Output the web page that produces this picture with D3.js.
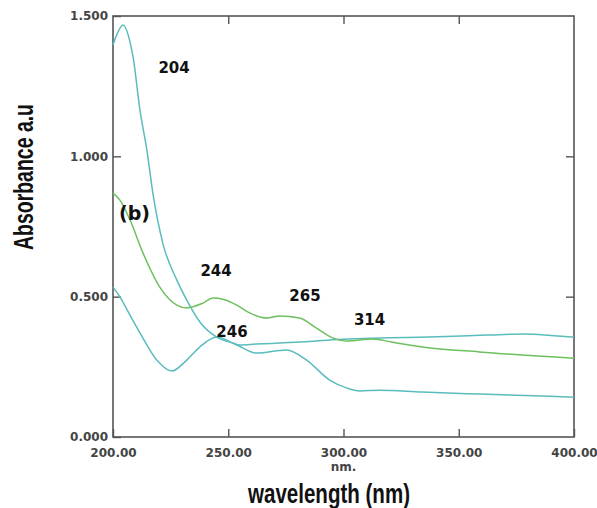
<!DOCTYPE html>
<html>
<head>
<meta charset="utf-8">
<script src="https://cdn.jsdelivr.net/npm/d3@7"></script>
<style>
  body { margin: 0; background: #fff; }
  svg { display: block; }
</style>
</head>
<body>
<div class="chart"></div>
<script>
// wavelength (nm) / absorbance
var wlA = [200, 201.5, 204.3, 207.4, 208.7, 211.7, 214.7, 217.3, 221.6, 227.7, 232, 237.7, 245, 252, 255, 262, 272.3, 285, 294, 305, 315.6, 337, 362, 379, 390, 400];
var absA = [1.397, 1.43, 1.468, 1.407, 1.354, 1.165, 1.022, 0.869, 0.691, 0.559, 0.488, 0.41, 0.356, 0.335, 0.328, 0.331, 0.335, 0.34, 0.346, 0.35, 0.353, 0.356, 0.363, 0.367, 0.362, 0.356];

var wlB = [200, 203, 207.4, 213, 220.3, 227.7, 232, 239, 243.3, 248, 253.7, 259.3, 266.7, 272.3, 281, 288.3, 295.2, 301.3, 312.6, 321.2, 334.2, 358.9, 400];
var absB = [0.869, 0.844, 0.773, 0.656, 0.534, 0.47, 0.46, 0.477, 0.495, 0.49, 0.47, 0.442, 0.424, 0.431, 0.424, 0.388, 0.353, 0.342, 0.349, 0.338, 0.321, 0.303, 0.281];

var wlC = [200, 203, 206, 211.7, 219, 225.5, 232, 237.7, 245, 253.7, 262.3, 275.3, 284, 294, 301.3, 307, 315.6, 334.2, 358.9, 400];
var absC = [0.534, 0.499, 0.455, 0.371, 0.274, 0.235, 0.274, 0.321, 0.356, 0.328, 0.299, 0.31, 0.274, 0.203, 0.175, 0.164, 0.167, 0.16, 0.153, 0.142];

var xTicks = [200, 250, 300, 350, 400];
var yTicks = [0, 0.5, 1.0, 1.5];

var peakLabels = [
  {text: "204", wl: 226.5, a: 1.297},
  {text: "244", wl: 244.7, a: 0.574},
  {text: "265", wl: 283.3, a: 0.485},
  {text: "246", wl: 251.6, a: 0.356},
  {text: "314", wl: 311.3, a: 0.399}
];

var width = 597, height = 508;
var margin = {top: 16, right: 23, bottom: 71, left: 113};

var svg = d3.select(".chart").append("svg")
    .attr("width", width)
    .attr("height", height);

var scaleX = d3.scaleLinear()
    .domain([200, 400])
    .range([margin.left, width - margin.right]);

var scaleY = d3.scaleLinear()
    .domain([0, 1.5])
    .range([height - margin.bottom, margin.top]);

var tickFont = "bold 12px 'DejaVu Sans', sans-serif";
var axisColor = "#555";

// frame
svg.append("rect")
    .attr("x", scaleX(200))
    .attr("y", scaleY(1.5))
    .attr("width", scaleX(400) - scaleX(200))
    .attr("height", scaleY(0) - scaleY(1.5))
    .attr("fill", "none")
    .attr("stroke", axisColor)
    .attr("stroke-width", 1.6);

function styleAxis(g) {
  g.select(".domain").remove();
  g.selectAll(".tick line").attr("stroke", axisColor).attr("stroke-width", 1.4);
  g.selectAll(".tick text").attr("fill", "#444").style("font", tickFont);
}

svg.append("g")
    .attr("transform", `translate(0, ${scaleY(0)})`)
    .call(d3.axisBottom(scaleX).tickValues(xTicks).tickFormat(d3.format(".2f"))
        .tickSizeInner(-8).tickSizeOuter(0).tickPadding(11))
    .call(styleAxis);

svg.append("g")
    .attr("transform", `translate(0, ${scaleY(1.5)})`)
    .call(d3.axisTop(scaleX).tickValues(xTicks.slice(1, -1)).tickFormat("")
        .tickSizeInner(-8).tickSizeOuter(0))
    .call(styleAxis);

svg.append("g")
    .attr("transform", `translate(${scaleX(200)}, 0)`)
    .call(d3.axisLeft(scaleY).tickValues(yTicks).tickFormat(d3.format(".3f"))
        .tickSizeInner(-8).tickSizeOuter(0).tickPadding(5))
    .call(styleAxis);

svg.append("g")
    .attr("transform", `translate(${scaleX(400)}, 0)`)
    .call(d3.axisRight(scaleY).tickValues(yTicks.slice(1, -1)).tickFormat("")
        .tickSizeInner(-8).tickSizeOuter(0))
    .call(styleAxis);

// curves
var line = d3.line()
    .x(d => scaleX(d[0]))
    .y(d => scaleY(d[1]))
    .curve(d3.curveMonotoneX);

var series = [
  {wl: wlA, abs: absA, color: "#5bbcbd"},
  {wl: wlC, abs: absC, color: "#5bbcbd"},
  {wl: wlB, abs: absB, color: "#6cc05e"}
];

svg.selectAll("path.curve")
    .data(series)
    .join("path")
    .attr("class", "curve")
    .attr("fill", "none")
    .attr("stroke", d => d.color)
    .attr("stroke-width", 1.5)
    .attr("d", d => line(d.wl.map((w, i) => [w, d.abs[i]])));

// peak labels
svg.selectAll("text.peak")
    .data(peakLabels)
    .join("text")
    .attr("class", "peak")
    .attr("x", d => scaleX(d.wl))
    .attr("y", d => scaleY(d.a))
    .attr("text-anchor", "middle")
    .style("font", "bold 15px 'DejaVu Sans', sans-serif")
    .attr("fill", "#111")
    .text(d => d.text);

svg.append("text")
    .attr("x", 119)
    .attr("y", 220)
    .style("font", "bold 19px 'DejaVu Sans', sans-serif")
    .attr("fill", "#111")
    .text("(b)");

// axis titles
svg.append("text")
    .attr("x", scaleX(300))
    .attr("y", 471)
    .attr("text-anchor", "middle")
    .style("font", tickFont)
    .attr("fill", "#444")
    .text("nm.");

svg.append("text")
    .attr("x", 248)
    .attr("y", 503)
    .attr("textLength", 162)
    .attr("lengthAdjust", "spacingAndGlyphs")
    .style("font", "bold 27px 'Liberation Sans', Arial, sans-serif")
    .attr("fill", "#111")
    .text("wavelength (nm)");

svg.append("text")
    .attr("transform", "translate(33, 250) rotate(-90)")
    .attr("textLength", 146)
    .attr("lengthAdjust", "spacingAndGlyphs")
    .style("font", "bold 27px 'Liberation Sans', Arial, sans-serif")
    .attr("fill", "#111")
    .text("Absorbance a.u");
</script>
</body>
</html>
